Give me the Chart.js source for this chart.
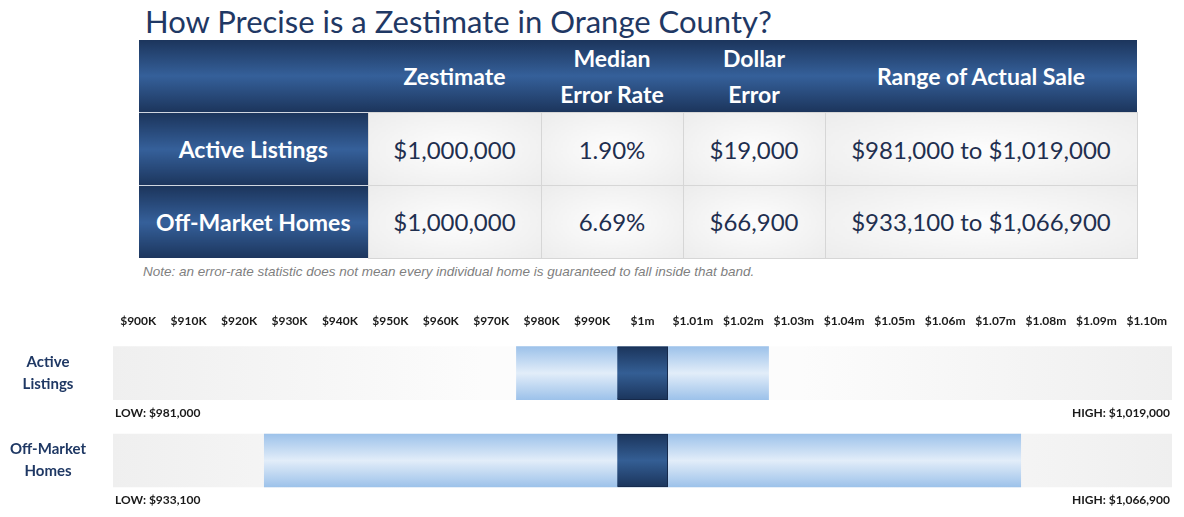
<!DOCTYPE html>
<html><head><meta charset="utf-8">
<script src="https://cdn.jsdelivr.net/npm/chart.js@4"></script>
<style>
body{margin:0;width:1184px;height:517px;position:relative;background:#fff;font-family:Lato,sans-serif;overflow:hidden}
#title{position:absolute;left:145px;top:2px;font-size:31px;color:#1f3864}
table{position:absolute;left:139px;top:40px;border-collapse:collapse;width:998px;table-layout:fixed}
th,td{padding:0}
th{color:#fff;font-weight:bold;font-size:23px;line-height:36px;background:linear-gradient(#1c355c,#35609a 50%,#1c355c)}
thead th{height:71px}
tbody th{height:72px;border-top:1px solid #d0d6e0}
td{text-align:center;font-size:24px;color:#1f2f4f;background:radial-gradient(ellipse at center,#fdfdfd,#ececec);border:1px solid #d6d6d6}
#note{position:absolute;left:143px;top:264px;font:italic 13.5px "Liberation Sans",Arial,sans-serif;color:#7f7f7f}
#wrap{position:absolute;left:0;top:315px;width:1184px;height:202px}
</style></head><body>
<div id="title">How Precise is a Zestimate in Orange County?</div>
<table>
<colgroup><col style="width:229px"><col style="width:173px"><col style="width:142px"><col style="width:142px"><col style="width:312px"></colgroup>
<thead><tr><th></th><th>Zestimate</th><th>Median<br>Error Rate</th><th>Dollar<br>Error</th><th>Range of Actual Sale</th></tr></thead>
<tbody>
<tr><th>Active Listings</th><td>$1,000,000</td><td>1.90%</td><td>$19,000</td><td>$981,000 to $1,019,000</td></tr>
<tr><th>Off-Market Homes</th><td>$1,000,000</td><td>6.69%</td><td>$66,900</td><td>$933,100 to $1,066,900</td></tr>
</tbody></table>
<div id="note">Note: an error-rate statistic does not mean every individual home is guaranteed to fall inside that band.</div>
<div id="wrap"><canvas id="c"></canvas></div>
<script>
const categories = [['Active', 'Listings'], ['Off-Market', 'Homes']];
const zestimate = [1000000, 1000000];
const lowValues = [981000, 933100];
const highValues = [1019000, 1066900];
const lowLabels = ['LOW: $981,000', 'LOW: $933,100'];
const highLabels = ['HIGH: $1,019,000', 'HIGH: $1,066,900'];
const tickValues = [900000,910000,920000,930000,940000,950000,960000,970000,980000,990000,1000000,
  1010000,1020000,1030000,1040000,1050000,1060000,1070000,1080000,1090000,1100000];
const tickLabels = ['$900K','$910K','$920K','$930K','$940K','$950K','$960K','$970K','$980K','$990K','$1m',
  '$1.01m','$1.02m','$1.03m','$1.04m','$1.05m','$1.06m','$1.07m','$1.08m','$1.09m','$1.10m'];

const STEP = 10000, HALF = 5000;
const snap = v => Math.round(v / STEP) * STEP;
const rows = [0, 1];
const THICK = 53;

function vGrad(ctx, edge, mid) {
  const ch = ctx.chart, y = ch.scales.y;
  if (!y || !ch.chartArea || ctx.dataIndex === undefined) return mid;
  const yc = y.getPixelForValue(ctx.dataIndex);
  if (!isFinite(yc)) return mid;
  const g = ch.ctx.createLinearGradient(0, yc - THICK / 2, 0, yc + THICK / 2);
  g.addColorStop(0, edge); g.addColorStop(0.5, mid); g.addColorStop(1, edge);
  return g;
}
function bgGrad(ctx) {
  const a = ctx.chart.chartArea;
  if (!a || !isFinite(a.left) || !isFinite(a.right)) return '#f2f2f2';
  const g = ctx.chart.ctx.createLinearGradient(a.left, 0, a.right, 0);
  g.addColorStop(0, '#efefef'); g.addColorStop(0.35, '#fcfcfc');
  g.addColorStop(0.65, '#fcfcfc'); g.addColorStop(1, '#efefef');
  return g;
}

const labelsPlugin = {
  id: 'rowText',
  afterDraw(chart) {
    const c = chart.ctx, y = chart.scales.y, a = chart.chartArea;
    c.save();
    c.fillStyle = '#1f3864';
    c.font = 'bold 15px Lato';
    c.textAlign = 'center'; c.textBaseline = 'middle';
    rows.forEach(i => {
      const yc = y.getPixelForValue(i);
      c.fillText(categories[i][0], 48, yc - 11);
      c.fillText(categories[i][1], 48, yc + 11);
    });
    c.fillStyle = '#1a1a1a';
    c.font = 'bold 12px Lato';
    rows.forEach(i => {
      const yb = y.getPixelForValue(i) + THICK / 2 + 13;
      c.textAlign = 'left'; c.fillText(lowLabels[i], a.left + 2, yb);
      c.textAlign = 'right'; c.fillText(highLabels[i], a.right - 2, yb);
    });
    c.restore();
  }
};

new Chart(document.getElementById('c'), {
  type: 'bar',
  data: {
    labels: categories,
    datasets: [
      { label: 'Zestimate', order: 0, grouped: false, barThickness: THICK,
        data: rows.map(i => ({ y: i, x: [snap(zestimate[i]) - HALF, snap(zestimate[i]) + HALF] })),
        backgroundColor: c => vGrad(c, '#1b355c', '#345e94'), borderColor: '#16294a', borderWidth: 1 },
      { label: 'Range', order: 1, grouped: false, barThickness: THICK,
        data: rows.map(i => ({ y: i, x: [snap(lowValues[i]) - HALF, snap(highValues[i]) + HALF] })),
        backgroundColor: c => vGrad(c, '#9dc2ea', '#e2edf9') },
      { label: 'Scale', order: 2, grouped: false, barThickness: THICK,
        data: rows.map(i => ({ y: i, x: [tickValues[0] - HALF, tickValues[tickValues.length - 1] + HALF] })),
        backgroundColor: bgGrad }
    ]
  },
  options: {
    indexAxis: 'y',
    responsive: true, maintainAspectRatio: false, animation: false,
    layout: { padding: { right: 12, left: 0, top: 0, bottom: 0 } },
    plugins: { legend: { display: false }, tooltip: { enabled: false } },
    scales: {
      x: {
        type: 'linear', position: 'top',
        min: tickValues[0] - HALF, max: tickValues[tickValues.length - 1] + HALF,
        grid: { display: false }, border: { display: false },
        afterBuildTicks: s => { s.ticks = tickValues.map(v => ({ value: v })); },
        afterFit: s => { s.height = 25; },
        ticks: { autoSkip: false, maxRotation: 0, padding: 4, color: '#1a1a1a',
          font: { family: 'Lato', weight: 'bold', size: 12 },
          callback: (v, i) => tickLabels[i] }
      },
      y: {
        type: 'linear', reverse: true, min: -0.278, max: 1.546,
        display: true, grid: { display: false }, border: { display: false },
        ticks: { display: false },
        afterFit: s => { s.width = 113; }
      }
    }
  },
  plugins: [labelsPlugin]
});
</script>
</body></html>
